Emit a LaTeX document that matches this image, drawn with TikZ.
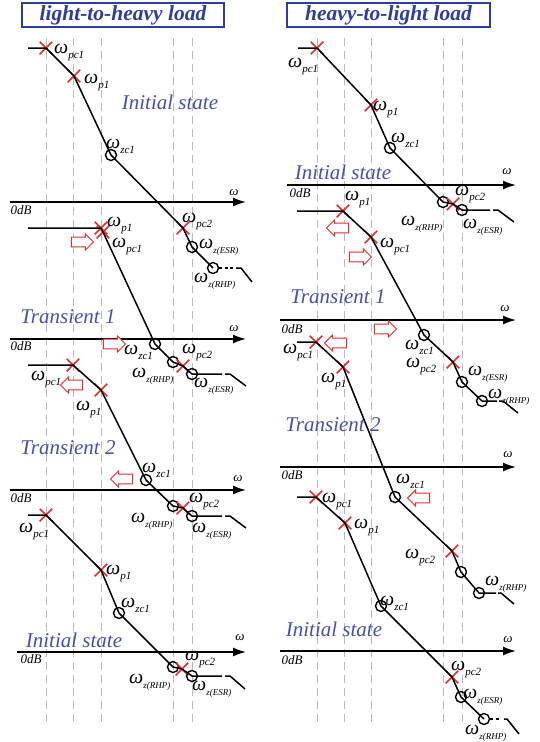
\documentclass[tikz,border=0pt]{standalone}
\usepackage{fontspec}
\setmainfont{Liberation Serif}
\usetikzlibrary{arrows.meta,shapes.misc,shapes.arrows}
\definecolor{tblue}{RGB}{70,80,170}
\definecolor{bblue}{RGB}{45,60,160}
\definecolor{xred}{RGB}{230,45,45}
\newcommand{\wsub}[1]{{\fontsize{20}{20}\selectfont\itshape ω}\raisebox{-5pt}{\fontsize{11}{11}\selectfont\itshape #1}}
\newcommand{\wsubs}[1]{{\fontsize{20}{20}\selectfont\itshape ω}\raisebox{-5pt}{\fontsize{9}{9}\selectfont\itshape #1}}
\begin{document}
\begin{tikzpicture}[x=1pt,y=-1pt,
  xmark/.style={cross out, draw=xred, line width=1.5pt, minimum size=11pt, inner sep=0pt},
  zmark/.style={circle, draw=black, line width=1.4pt, minimum size=11pt, inner sep=0pt},
  wl/.style={anchor=base west, inner sep=0pt},
  bode/.style={line width=1.5pt, line join=round},
  bdash/.style={line width=1.5pt, dash pattern=on 3pt off 2.5pt},
  axisline/.style={line width=1.6pt, -{Latex[length=13pt,width=9pt]}},
  vgrid/.style={gray!55, line width=0.8pt, dash pattern=on 8pt off 5pt},
  stxt/.style={text=tblue, font=\fontsize{21}{21}\selectfont\itshape, inner sep=0pt},
  odb/.style={font=\fontsize{13}{13}\selectfont\itshape, inner sep=0pt},
  wax/.style={font=\fontsize{13}{13}\selectfont\itshape, inner sep=0pt},
  rarr/.style={single arrow, draw=xred, fill=white, line width=1pt, minimum height=22pt, minimum width=16pt, single arrow head extend=2.8pt, inner sep=4pt},
  larr/.style={rarr, shape border rotate=180},
  ttl/.style={draw=bblue, line width=1.5pt, text=bblue, font=\fontsize{21.5}{21.5}\selectfont\bfseries\itshape, minimum height=24pt, inner sep=0pt}]
\useasboundingbox (0,0) rectangle (539,742);

% titles
\node[ttl, minimum width=202pt] (tleft) at (123,15) {light-to-heavy load};
\node[ttl, minimum width=203pt] (tright) at (388.5,15) {heavy-to-light load};

% dashed verticals
\foreach \x in {46,73,101,173,192} \draw[vgrid] (\x,38) -- (\x,722);
\foreach \x in {317,344,371,443,462} \draw[vgrid] (\x,38) -- (\x,722);

%================ LEFT 1 : Initial state
\coordinate (a1s) at (28,48);
\node[xmark] (a1pc1) at (46,48) {};
\node[xmark] (a1p1) at (74,76) {};
\node[zmark] (a1zc1) at (111,155) {};
\node[xmark] (a1pc2) at (183,228) {};
\node[zmark] (a1esr) at (192,247) {};
\node[zmark] (a1rhp) at (213,268) {};
\coordinate (a1t1) at (233,268);
\coordinate (a1t2) at (236,268);
\coordinate (a1t3) at (241,268);
\coordinate (a1t4) at (252,282);
\draw[bode] (a1s) -- (a1pc1.center) -- (a1p1.center) -- (a1zc1.center) -- (a1pc2.center) -- (a1esr.center) -- (a1rhp.center);
\draw[bdash] (a1rhp.east) -- (a1t1);
\draw[bode] (a1t2) -- (a1t3) -- (a1t4);
\coordinate (a1x0) at (10,202);
\coordinate (a1x1) at (246,202);
\draw[axisline] (a1x0) -- (a1x1);
\node[odb] (a1db) at (21,210) {0dB};
\node[wax] (a1w) at (234,193) {ω};
\node[stxt] (a1st) at (170,102) {Initial state};
\node[wl] (a1lpc1) at (54,53) {\wsub{pc1}};
\node[wl] (a1lp1) at (84,83) {\wsub{p1}};
\node[wl] (a1lzc1) at (106,148) {\wsub{zc1}};
\node[wl] (a1lpc2) at (182,222) {\wsub{pc2}};
\node[wl] (a1lesr) at (199,248) {\wsubs{z(ESR)}};
\node[wl] (a1lrhp) at (194,282) {\wsubs{z(RHP)}};

%================ LEFT 2 : Transient 1
\coordinate (b1s) at (28,228);
\node[xmark] (b1p1) at (101,228) {};
\node[xmark] (b1pc1) at (103,232) {};
\node[zmark] (b1zc1) at (155,344) {};
\node[zmark] (b1rhp) at (173,362) {};
\node[xmark] (b1pc2) at (183,366) {};
\node[zmark] (b1esr) at (192,374) {};
\coordinate (b1t1) at (222,374);
\coordinate (b1t2) at (225,374);
\coordinate (b1t3) at (230,374);
\coordinate (b1t4) at (246,386);
\draw[bode] (b1s) -- (b1p1.center) -- (b1pc1.center) -- (b1zc1.center) -- (b1rhp.center) -- (b1pc2.center) -- (b1esr.center) -- (b1t1);
\draw[bode] (b1t2) -- (b1t3) -- (b1t4);
\coordinate (b1x0) at (10,339);
\coordinate (b1x1) at (246,339);
\draw[axisline] (b1x0) -- (b1x1);
\node[odb] (b1db) at (21,346) {0dB};
\node[wax] (b1w) at (234,329) {ω};
\node[stxt] (b1st) at (68,317) {Transient 1};
\node[rarr] (b1a1) at (80,242) {};
\node[rarr] (b1a2) at (112,344) {};
\node[wl] (b1lp1) at (107,226) {\wsub{p1}};
\node[wl] (b1lpc1) at (112,247) {\wsub{pc1}};
\node[wl] (b1lzc1) at (124,354) {\wsub{zc1}};
\node[wl] (b1lpc2) at (182,353) {\wsub{pc2}};
\node[wl] (b1lrhp) at (132,377) {\wsubs{z(RHP)}};
\node[wl] (b1lesr) at (194,387) {\wsubs{z(ESR)}};

%================ LEFT 3 : Transient 2
\coordinate (c1s) at (28,365);
\node[xmark] (c1pc1) at (73,365) {};
\node[xmark] (c1p1) at (101,390) {};
\node[zmark] (c1zc1) at (146,480) {};
\node[zmark] (c1rhp) at (173,506) {};
\node[xmark] (c1pc2) at (183,508) {};
\node[zmark] (c1esr) at (192,516) {};
\coordinate (c1t1) at (222,516);
\coordinate (c1t2) at (225,516);
\coordinate (c1t3) at (230,516);
\coordinate (c1t4) at (246,528);
\draw[bode] (c1s) -- (c1pc1.center) -- (c1p1.center) -- (c1zc1.center) -- (c1rhp.center) -- (c1pc2.center) -- (c1esr.center) -- (c1t1);
\draw[bode] (c1t2) -- (c1t3) -- (c1t4);
\coordinate (c1x0) at (10,490);
\coordinate (c1x1) at (246,490);
\draw[axisline] (c1x0) -- (c1x1);
\node[odb] (c1db) at (21,498) {0dB};
\node[wax] (c1w) at (238,479) {ω};
\node[stxt] (c1st) at (68,448) {Transient 2};
\node[larr] (c1a1) at (74,385) {};
\node[larr] (c1a2) at (124,479) {};
\node[wl] (c1lpc1) at (31,380) {\wsub{pc1}};
\node[wl] (c1lp1) at (76,410) {\wsub{p1}};
\node[wl] (c1lzc1) at (142,472) {\wsub{zc1}};
\node[wl] (c1lpc2) at (189,502) {\wsub{pc2}};
\node[wl] (c1lrhp) at (131,522) {\wsubs{z(RHP)}};
\node[wl] (c1lesr) at (192,532) {\wsubs{z(ESR)}};

%================ LEFT 4 : Initial state
\coordinate (d1s) at (28,515);
\node[xmark] (d1pc1) at (46,515) {};
\node[xmark] (d1p1) at (101,570) {};
\node[zmark] (d1zc1) at (119,613) {};
\node[zmark] (d1rhp) at (173,667) {};
\node[xmark] (d1pc2) at (182,669) {};
\node[zmark] (d1esr) at (192,676) {};
\coordinate (d1t1) at (222,676);
\coordinate (d1t2) at (225,676);
\coordinate (d1t3) at (230,676);
\coordinate (d1t4) at (245,689);
\draw[bode] (d1s) -- (d1pc1.center) -- (d1p1.center) -- (d1zc1.center) -- (d1rhp.center) -- (d1pc2.center) -- (d1esr.center) -- (d1t1);
\draw[bode] (d1t2) -- (d1t3) -- (d1t4);
\coordinate (d1x0) at (17,652);
\coordinate (d1x1) at (246,652);
\draw[axisline] (d1x0) -- (d1x1);
\node[odb] (d1db) at (31,659) {0dB};
\node[wax] (d1w) at (240,638) {ω};
\node[stxt] (d1st) at (74,640) {Initial state};
\node[wl] (d1lpc1) at (19,532) {\wsub{pc1}};
\node[wl] (d1lp1) at (106,574) {\wsub{p1}};
\node[wl] (d1lzc1) at (121,607) {\wsub{zc1}};
\node[wl] (d1lpc2) at (185,660) {\wsub{pc2}};
\node[wl] (d1lrhp) at (129,683) {\wsubs{z(RHP)}};
\node[wl] (d1lesr) at (192,690) {\wsubs{z(ESR)}};

%================ RIGHT 1 : Initial state
\coordinate (e1s) at (298,48);
\node[xmark] (e1pc1) at (317,48) {};
\node[xmark] (e1p1) at (371,105) {};
\node[zmark] (e1zc1) at (390,148) {};
\node[zmark] (e1rhp) at (443,202) {};
\node[xmark] (e1pc2) at (453,204) {};
\node[zmark] (e1esr) at (462,210) {};
\coordinate (e1t1) at (490,210);
\coordinate (e1t2) at (493,210);
\coordinate (e1t3) at (498,210);
\coordinate (e1t4) at (514,222);
\draw[bode] (e1s) -- (e1pc1.center) -- (e1p1.center) -- (e1zc1.center) -- (e1rhp.center) -- (e1pc2.center) -- (e1esr.center) -- (e1t1);
\draw[bode] (e1t2) -- (e1t3) -- (e1t4);
\coordinate (e1x0) at (287,185);
\coordinate (e1x1) at (516,185);
\draw[axisline] (e1x0) -- (e1x1);
\node[odb] (e1db) at (300,193) {0dB};
\node[wax] (e1w) at (507,172) {ω};
\node[stxt] (e1st) at (343,172) {Initial state};
\node[wl] (e1lpc1) at (288,67) {\wsub{pc1}};
\node[wl] (e1lp1) at (373,110) {\wsub{p1}};
\node[wl] (e1lzc1) at (391,142) {\wsub{zc1}};
\node[wl] (e1lpc2) at (455,195) {\wsub{pc2}};
\node[wl] (e1lrhp) at (401,225) {\wsubs{z(RHP)}};
\node[wl] (e1lesr) at (463,228) {\wsubs{z(ESR)}};

%================ RIGHT 2 : Transient 1
\coordinate (f1s) at (297,211);
\node[xmark] (f1p1) at (343,211) {};
\node[xmark] (f1pc1) at (371,237) {};
\node[zmark] (f1zc1) at (424,335) {};
\node[xmark] (f1pc2) at (453,362) {};
\node[zmark] (f1esr) at (462,382) {};
\node[zmark] (f1rhp) at (482,401) {};
\coordinate (f1t1) at (497,401);
\coordinate (f1t2) at (499,401);
\coordinate (f1t3) at (503,401);
\coordinate (f1t4) at (518,413);
\draw[bode] (f1s) -- (f1p1.center) -- (f1pc1.center) -- (f1zc1.center) -- (f1pc2.center) -- (f1esr.center) -- (f1rhp.center) -- (f1t1);
\draw[bode] (f1t2) -- (f1t3) -- (f1t4);
\coordinate (f1x0) at (280,320);
\coordinate (f1x1) at (516,320);
\draw[axisline] (f1x0) -- (f1x1);
\node[odb] (f1db) at (292,329) {0dB};
\node[wax] (f1w) at (505,309) {ω};
\node[stxt] (f1st) at (338,297) {Transient 1};
\node[larr] (f1a1) at (340,228) {};
\node[rarr] (f1a2) at (358,257) {};
\node[rarr] (f1a3) at (383,329) {};
\node[wl] (f1lp1) at (345,200) {\wsub{p1}};
\node[wl] (f1lpc1) at (380,247) {\wsub{pc1}};
\node[wl] (f1lzc1) at (405,349) {\wsub{zc1}};
\node[wl] (f1lpc2) at (406,367) {\wsub{pc2}};
\node[wl] (f1lesr) at (468,375) {\wsubs{z(ESR)}};
\node[wl] (f1lrhp) at (488,398) {\wsubs{z(RHP)}};

%================ RIGHT 3 : Transient 2
\coordinate (g1s) at (297,342);
\node[xmark] (g1pc1) at (316,342) {};
\node[xmark] (g1p1) at (343,367) {};
\node[zmark] (g1zc1) at (395,497) {};
\node[xmark] (g1pc2) at (452,551) {};
\node[zmark] (g1esr) at (461,572) {};
\node[zmark] (g1rhp) at (479,593) {};
\coordinate (g1t1) at (496,593);
\coordinate (g1t2) at (498,593);
\coordinate (g1t3) at (501,593);
\coordinate (g1t4) at (514,604);
\draw[bode] (g1s) -- (g1pc1.center) -- (g1p1.center) -- (g1zc1.center) -- (g1pc2.center) -- (g1esr.center) -- (g1rhp.center) -- (g1t1);
\draw[bode] (g1t2) -- (g1t3) -- (g1t4);
\coordinate (g1x0) at (280,467);
\coordinate (g1x1) at (516,467);
\draw[axisline] (g1x0) -- (g1x1);
\node[odb] (g1db) at (292,475) {0dB};
\node[wax] (g1w) at (508,455) {ω};
\node[stxt] (g1st) at (333,425) {Transient 2};
\node[larr] (g1a1) at (338,343) {};
\node[larr] (g1a2) at (421,498) {};
\node[wl] (g1lpc1) at (283,353) {\wsub{pc1}};
\node[wl] (g1lp1) at (321,382) {\wsub{p1}};
\node[wl] (g1lzc1) at (396,483) {\wsub{zc1}};
\node[wl] (g1lpc2) at (405,558) {\wsub{pc2}};
\node[wl] (g1lrhp) at (485,585) {\wsubs{z(RHP)}};

%================ RIGHT 4 : Initial state
\coordinate (h1s) at (297,497);
\node[xmark] (h1pc1) at (316,497) {};
\node[xmark] (h1p1) at (345,523) {};
\node[zmark] (h1zc1) at (381,606) {};
\node[xmark] (h1pc2) at (452,677) {};
\node[zmark] (h1esr) at (461,697) {};
\node[zmark] (h1rhp) at (484,719) {};
\coordinate (h1t1) at (501,719);
\coordinate (h1t2) at (504,719);
\coordinate (h1t3) at (507,719);
\coordinate (h1t4) at (519,734);
\draw[bode] (h1s) -- (h1pc1.center) -- (h1p1.center) -- (h1zc1.center) -- (h1pc2.center) -- (h1esr.center) -- (h1rhp.center);
\draw[bdash] (h1rhp.east) -- (h1t1);
\draw[bode] (h1t2) -- (h1t3) -- (h1t4);
\coordinate (h1x0) at (280,651);
\coordinate (h1x1) at (516,651);
\draw[axisline] (h1x0) -- (h1x1);
\node[odb] (h1db) at (292,660) {0dB};
\node[wax] (h1w) at (508,640) {ω};
\node[stxt] (h1st) at (334,629) {Initial state};
\node[wl] (h1lpc1) at (322,502) {\wsub{pc1}};
\node[wl] (h1lp1) at (354,528) {\wsub{p1}};
\node[wl] (h1lzc1) at (380,605) {\wsub{zc1}};
\node[wl] (h1lpc2) at (451,670) {\wsub{pc2}};
\node[wl] (h1lesr) at (463,698) {\wsubs{z(ESR)}};
\node[wl] (h1lrhp) at (465,734) {\wsubs{z(RHP)}};
\end{tikzpicture}
\end{document}
